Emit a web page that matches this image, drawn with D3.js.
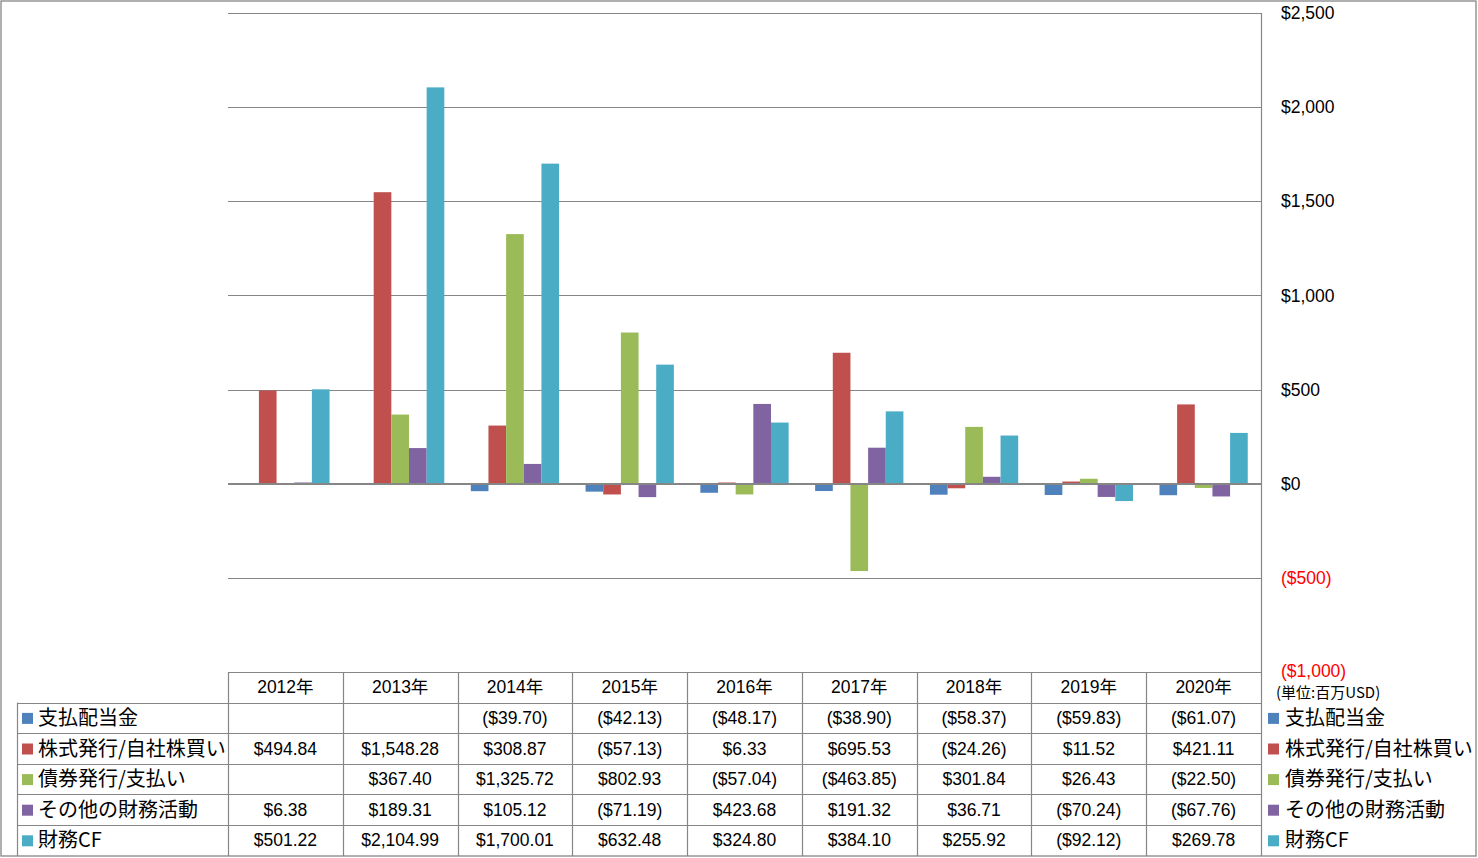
<!DOCTYPE html>
<html>
<head>
<meta charset="utf-8">
<script src="https://cdn.jsdelivr.net/npm/d3@7"></script>
<style>
  body { margin: 0; background: #fff; }
  text { font-family: "Liberation Sans", "Noto Sans CJK JP", sans-serif; }
</style>
</head>
<body>
<div class="chart"></div>
<script>
// chart values (millions USD)
const years = ["2012年", "2013年", "2014年", "2015年", "2016年", "2017年", "2018年", "2019年", "2020年"];
const seriesNames = ["支払配当金", "株式発行/自社株買い", "債券発行/支払い", "その他の財務活動", "財務CF"];
const colors = ["#4F81BD", "#C0504D", "#9BBB59", "#8064A2", "#4BACC6"];

const dividends = [null, null, -39.70, -42.13, -48.17, -38.90, -58.37, -59.83, -61.07];
const stock     = [494.84, 1548.28, 308.87, -57.13, 6.33, 695.53, -24.26, 11.52, 421.11];
const bonds     = [null, 367.40, 1325.72, 802.93, -57.04, -463.85, 301.84, 26.43, -22.50];
const other     = [6.38, 189.31, 105.12, -71.19, 423.68, 191.32, 36.71, -70.24, -67.76];
const financeCF = [501.22, 2104.99, 1700.01, 632.48, 324.80, 384.10, 255.92, -92.12, 269.78];
const seriesValues = [dividends, stock, bonds, other, financeCF];

const yTicks = [-1000, -500, 0, 500, 1000, 1500, 2000, 2500];

// layout
const width = 1478, height = 858;
const plot = {left: 228, right: 1261, top: 13, bottom: 672};
const rowH = 30.6;
const gridColor = "#868686";

const svg = d3.select(".chart").append("svg")
    .attr("width", width)
    .attr("height", height);

// outer frame
svg.append("rect")
    .attr("x", 1).attr("y", 1)
    .attr("width", width - 3).attr("height", height - 3)
    .attr("fill", "none").attr("stroke", gridColor).attr("stroke-width", 1.3);

const yScale = d3.scaleLinear()
    .domain([-1000, 2500])
    .range([plot.bottom, plot.top]);

const xScale = d3.scaleBand()
    .domain(years)
    .range([plot.left, plot.right]);

// gap width 150% like Excel
const bw = xScale.bandwidth();
const barW = bw / 6.5;
const x1 = d3.scaleBand()
    .domain(d3.range(seriesNames.length))
    .range([barW * 0.75, barW * 0.75 + barW * 5]);

// gridlines
svg.append("g").selectAll("line")
    .data(yTicks.filter(t => t > -1000))
    .join("line")
    .attr("x1", plot.left).attr("x2", plot.right)
    .attr("y1", d => Math.round(yScale(d)) + 0.5)
    .attr("y2", d => Math.round(yScale(d)) + 0.5)
    .attr("stroke", gridColor);

// y axis labels on the right
const fmtMoney = v => {
    const s = "$" + d3.format(",.0f")(Math.abs(v));
    return v < 0 ? "(" + s + ")" : s;
};
svg.append("g").selectAll("text")
    .data(yTicks)
    .join("text")
    .attr("x", 1281)
    .attr("y", d => yScale(d) + (d === -1000 ? -1 : 0))
    .attr("dy", "0.35em")
    .attr("font-size", 17.5)
    .attr("fill", d => d < 0 ? "#FF0000" : "#000")
    .text(fmtMoney);

svg.append("text")
    .attr("x", 1276)
    .attr("y", 693)
    .attr("dy", "0.35em")
    .attr("font-size", 15)
    .style("font-family", "'Noto Sans CJK JP', sans-serif")
    .text("(単位:百万USD)");

// bars
seriesValues.forEach((vals, si) => {
    svg.append("g").selectAll("rect")
        .data(vals.map((v, i) => ({year: years[i], v: v})).filter(d => d.v !== null))
        .join("rect")
        .attr("x", d => xScale(d.year) + x1(si))
        .attr("width", x1.bandwidth())
        .attr("y", d => yScale(Math.max(0, d.v)))
        .attr("height", d => Math.abs(yScale(d.v) - yScale(0)))
        .attr("fill", colors[si]);
});

// zero line on top of bars
svg.append("line")
    .attr("x1", plot.left).attr("x2", plot.right)
    .attr("y1", Math.round(yScale(0))).attr("y2", Math.round(yScale(0)))
    .attr("stroke", gridColor).attr("stroke-width", 2);

// data table
const tableTop = plot.bottom;
const legendLeft = 17;
const g = svg.append("g").attr("stroke", gridColor).attr("stroke-width", 1.2);

// horizontal lines
g.append("line")
    .attr("x1", plot.left).attr("x2", plot.right)
    .attr("y1", tableTop + 0.5).attr("y2", tableTop + 0.5);
d3.range(1, seriesNames.length + 1).forEach(r => {
    const y = Math.round(tableTop + rowH * r) + 0.5;
    g.append("line").attr("x1", legendLeft).attr("x2", plot.right).attr("y1", y).attr("y2", y);
});
// vertical lines
g.append("line")
    .attr("x1", legendLeft + 0.5).attr("x2", legendLeft + 0.5)
    .attr("y1", tableTop + rowH).attr("y2", height - 2);
years.forEach(yr => {
    const x = Math.round(xScale(yr)) + 0.5;
    g.append("line").attr("x1", x).attr("x2", x).attr("y1", tableTop).attr("y2", height - 2);
});
g.append("line")
    .attr("x1", plot.right + 0.5).attr("x2", plot.right + 0.5)
    .attr("y1", plot.top).attr("y2", height - 2);

// header years
svg.append("g").selectAll("text")
    .data(years)
    .join("text")
    .attr("x", d => xScale(d) + bw / 2)
    .attr("y", tableTop + rowH / 2)
    .attr("dy", "0.35em")
    .attr("text-anchor", "middle")
    .attr("font-size", 17.5)
    .text(d => d);

const fmtCell = v => {
    if (v === null) return "";
    const s = "$" + d3.format(",.2f")(Math.abs(v));
    return v < 0 ? "(" + s + ")" : s;
};

seriesValues.forEach((vals, si) => {
    const cy = tableTop + rowH * (si + 1.5);
    svg.append("g").selectAll("text")
        .data(vals.map((v, i) => ({year: years[i], v: v})))
        .join("text")
        .attr("x", d => xScale(d.year) + bw / 2)
        .attr("y", cy)
        .attr("dy", "0.35em")
        .attr("text-anchor", "middle")
        .attr("font-size", 17.5)
        .text(d => fmtCell(d.v));

    // legend keys, left and right of table
    [[22, 38], [1268, 1285]].forEach(([kx, tx]) => {
        svg.append("rect")
            .attr("x", kx).attr("y", cy - 5)
            .attr("width", 11).attr("height", 11)
            .attr("fill", colors[si]);
        svg.append("text")
            .attr("x", tx).attr("y", cy)
            .attr("dy", "0.35em")
            .attr("font-size", 20)
            .style("font-family", "'Noto Sans CJK JP', sans-serif")
            .text(seriesNames[si]);
    });
});
</script>
</body>
</html>
